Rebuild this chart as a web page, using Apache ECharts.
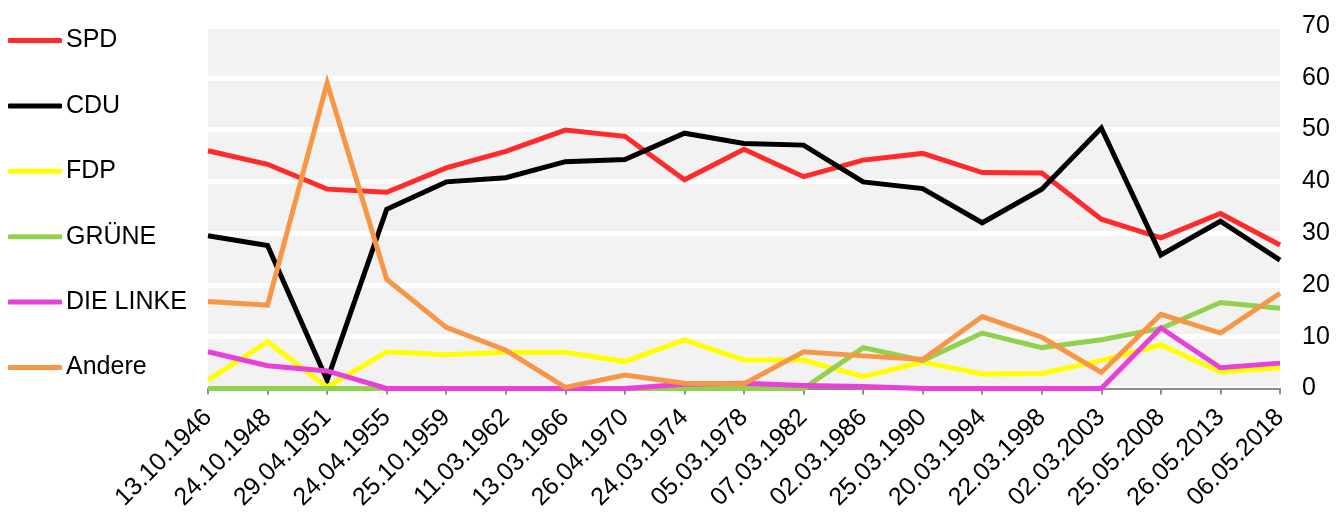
<!DOCTYPE html>
<html>
<head>
<meta charset="utf-8">
<script src="https://cdn.jsdelivr.net/npm/echarts@6/dist/echarts.min.js"></script>
<style>
  html, body { margin: 0; padding: 0; background: #fff; }
  #chart { width: 1343px; height: 513px; }
</style>
</head>
<body>
<div id="chart"></div>
<script>
    var dates = ['13.10.1946', '24.10.1948', '29.04.1951', '24.04.1955', '25.10.1959', '11.03.1962',
        '13.03.1966', '26.04.1970', '24.03.1974', '05.03.1978', '07.03.1982', '02.03.1986',
        '25.03.1990', '20.03.1994', '22.03.1998', '02.03.2003', '25.05.2008', '26.05.2013', '06.05.2018'];

    var spd = [45.9, 43.3, 38.5, 37.9, 42.6, 45.8, 49.9, 48.7, 40.3, 46.2, 40.9, 44.1, 45.4, 41.7, 41.6, 32.7, 29.1, 33.8, 27.7];
    var cdu = [29.5, 27.6, 1.6, 34.6, 39.9, 40.7, 43.8, 44.2, 49.3, 47.3, 47.0, 39.9, 38.6, 32.0, 38.5, 50.3, 25.8, 32.3, 24.8];
    var fdp = [1.6, 9.0, 0.3, 7.1, 6.5, 7.0, 7.0, 5.2, 9.4, 5.5, 5.5, 2.3, 5.1, 2.8, 2.9, 5.4, 8.4, 3.2, 4.0];
    var gruene = [0, 0, 0, 0, 0, 0, 0, 0, 0, 0, 0, 7.9, 5.4, 10.7, 7.9, 9.4, 11.6, 16.6, 15.5];
    var linke = [7.1, 4.4, 3.4, 0, 0, 0, 0, 0, 0.8, 1.0, 0.6, 0.4, 0, 0, 0, 0, 11.7, 4.0, 4.9];
    var andere = [16.8, 16.1, 59.0, 21.1, 11.8, 7.4, 0.2, 2.6, 1.0, 0.9, 7.1, 6.3, 5.6, 13.9, 9.9, 3.1, 14.3, 10.7, 18.4];

    var parties = ['SPD', 'CDU', 'FDP', 'GRÜNE', 'DIE LINKE', 'Andere'];
    var values = [spd, cdu, fdp, gruene, linke, andere];
    var colors = ['#ff2a2a', '#000000', '#ffff00', '#92d050', '#e840d8', '#f79646'];

    var chart = echarts.init(document.getElementById('chart'));

    var seriesData = [];
    for (var i = 0; i < parties.length; i++) {
        seriesData.push({
            name: parties[i],
            type: 'line',
            symbol: 'none',
            data: values[i],
            lineStyle: { width: 5, color: colors[i], join: 'miter' },
            itemStyle: { color: colors[i] }
        });
    }

    chart.setOption({
        animation: false,
        textStyle: { fontFamily: 'Liberation Sans, Arial, sans-serif' },
        legend: {
            orient: 'vertical',
            left: 8,
            top: 28,
            padding: 0,
            icon: 'roundRect',
            itemWidth: 54,
            itemHeight: 5,
            itemGap: 40.4,
            textStyle: { fontSize: 25, color: '#000', padding: [0, 0, 0, -1] },
            data: parties
        },
        grid: {
            left: 208,
            right: 63,
            top: 26,
            bottom: 124.5,
            show: true,
            backgroundColor: '#f2f2f2',
            borderWidth: 0
        },
        xAxis: {
            type: 'category',
            boundaryGap: false,
            data: dates,
            axisLine: { show: true, lineStyle: { color: '#8c8c8c', width: 2 } },
            axisTick: { show: true, alignWithLabel: true, length: 6, lineStyle: { color: '#8c8c8c', width: 2 } },
            axisLabel: { rotate: 45, interval: 0, fontSize: 25, color: '#000', margin: 25 },
            splitLine: { show: false }
        },
        yAxis: {
            type: 'value',
            position: 'right',
            min: 0,
            max: 70,
            interval: 10,
            axisLine: { show: false },
            axisTick: { show: false },
            axisLabel: { fontSize: 25, color: '#000', margin: 22 },
            splitLine: { show: true, lineStyle: { color: '#ffffff', width: 5 } }
        },
        series: seriesData
    });
</script>
</body>
</html>
